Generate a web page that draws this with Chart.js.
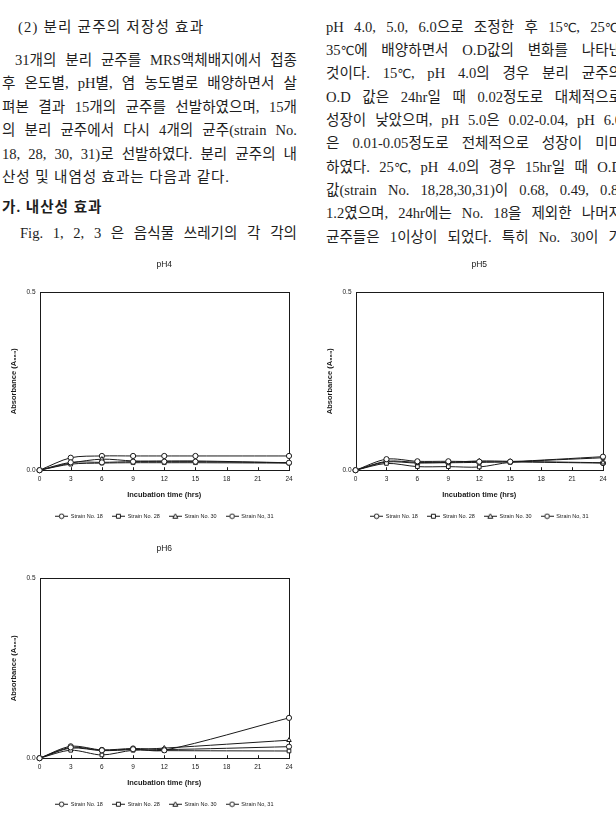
<!DOCTYPE html>
<html lang="ko">
<head>
<meta charset="utf-8">
<script src="https://cdn.jsdelivr.net/npm/chart.js@4.4.1/dist/chart.umd.min.js"></script>
<style>
  body { margin: 0; width: 616px; height: 814px; overflow: hidden; background: #fff; position: relative;
         font-family: "Liberation Serif", "Noto Sans CJK KR", serif; color: #1e1e1e; }
  .ln { position: absolute; font-size: 14.6px; line-height: 20px; white-space: nowrap; }
  .j { white-space: normal; text-align: justify; text-align-last: justify; text-justify: inter-word; }
  .l { left: 2px; width: 295px; }
  .r { left: 326px; width: 296px; }
  .t { display: inline-block; }
  .c { font-family: "DejaVu Sans", sans-serif; font-size: 12.5px; letter-spacing: -0.5px; }
  .box { position: absolute; }
</style>
</head>
<body>

<div class="ln" style="left:18px;top:17px;letter-spacing:1.2px">(2) 분리 균주의 저장성 효과</div>
<div class="ln j l" style="top:50px;left:15px;width:282px">31개의 분리 균주를 MRS액체배지에서 접종</div>
<div class="ln j l" style="top:73px">후 온도별, pH별, 염 농도별로 배양하면서 살</div>
<div class="ln j l" style="top:97px">펴본 결과 15개의 균주를 선발하였으며, 15개</div>
<div class="ln j l" style="top:120px">의 분리 균주에서 다시 4개의 균주(strain No.</div>
<div class="ln j l" style="top:144px">18, 28, 30, 31)로 선발하였다. 분리 균주의 내</div>
<div class="ln" style="left:2px;top:167px;letter-spacing:0.9px">산성 및 내염성 효과는 다음과 같다.</div>
<div class="ln" style="left:2px;top:197px;font-weight:bold;letter-spacing:1px">가. 내산성 효과</div>
<div class="ln j l" style="top:223px;left:20px;width:277px">Fig. 1, 2, 3 은 음식물 쓰레기의 각 각의</div>

<div class="ln j r" style="top:17px">pH 4.0, 5.0, 6.0으로 조정한 후 <span class="t">15<span class="c">℃</span>,</span> <span class="t">25<span class="c">℃</span>,</span></div>
<div class="ln j r" style="top:40px"><span class="t">35<span class="c">℃</span>에</span> 배양하면서 O.D값의 변화를 나타낸</div>
<div class="ln j r" style="top:63px">것이다. <span class="t">15<span class="c">℃</span>,</span> pH 4.0의 경우 분리 균주의</div>
<div class="ln j r" style="top:87px">O.D 값은 24hr일 때 0.02정도로 대체적으로</div>
<div class="ln j r" style="top:110px">성장이 낮았으며, pH 5.0은 0.02-0.04, pH 6.0</div>
<div class="ln j r" style="top:133px">은 0.01-0.05정도로 전체적으로 성장이 미미</div>
<div class="ln j r" style="top:157px">하였다. <span class="t">25<span class="c">℃</span>,</span> pH 4.0의 경우 15hr일 때 O.D</div>
<div class="ln j r" style="top:180px">값(strain No. 18,28,30,31)이 0.68, 0.49, 0.8,</div>
<div class="ln j r" style="top:203px">1.2였으며, 24hr에는 No. 18을 제외한 나머지</div>
<div class="ln j r" style="top:227px">균주들은 1이상이 되었다. 특히 No. 30이 가</div>

<div class="box" style="left:0;top:245px"><canvas id="ph4" width="308" height="290"></canvas></div>
<div class="box" style="left:308px;top:245px"><canvas id="ph5" width="308" height="290"></canvas></div>
<div class="box" style="left:0;top:535px"><canvas id="ph6" width="308" height="282"></canvas></div>

<script>
// time points (hrs)
const hours = [0, 3, 6, 9, 12, 15, 24];
const hoursPH6 = [0, 3, 6, 9, 12, 24];
const xTicks = [0, 3, 6, 9, 12, 15, 18, 21, 24];
const yTicks = [0, 0.5];
const strainNames = ["Strain No. 18", "Strain No. 28", "Strain No. 30", "Strain No, 31"];
const markers = ["circle", "rect", "triangle", "circle"];

// absorbance A660
const ph4_18 = [0, 0.022, 0.022, 0.024, 0.024, 0.024, 0.021];
const ph4_28 = [0, 0.017, 0.020, 0.021, 0.021, 0.021, 0.020];
const ph4_30 = [0, 0.020, 0.031, 0.026, 0.026, 0.026, 0.021];
const ph4_31 = [0, 0.035, 0.040, 0.040, 0.040, 0.040, 0.040];

const ph5_18 = [0, 0.031, 0.025, 0.025, 0.024, 0.024, 0.038];
const ph5_28 = [0, 0.019, 0.010, 0.010, 0.009, 0.022, 0.035];
const ph5_30 = [0, 0.023, 0.020, 0.022, 0.026, 0.025, 0.021];
const ph5_31 = [0, 0.025, 0.022, 0.021, 0.022, 0.023, 0.020];

const ph6_18 = [0, 0.030, 0.022, 0.025, 0.022, 0.112];
const ph6_28 = [0, 0.022, 0.009, 0.022, 0.021, 0.020];
const ph6_30 = [0, 0.028, 0.021, 0.024, 0.028, 0.050];
const ph6_31 = [0, 0.033, 0.023, 0.027, 0.024, 0.032];

const ink = "#1a1a1a";
const sans = "'Liberation Sans', Arial, 'DejaVu Sans', sans-serif";

// little "-o-" pictures for the legend
function legendIcon(style) {
  let c = document.createElement("canvas");
  c.width = 13; c.height = 7;
  let g = c.getContext("2d");
  g.strokeStyle = ink; g.lineWidth = 1; g.fillStyle = "#fff";
  g.beginPath(); g.moveTo(0, 3.5); g.lineTo(13, 3.5); g.stroke();
  g.beginPath();
  if (style === "rect") g.rect(4.5, 1.5, 4, 4);
  else if (style === "triangle") { g.moveTo(6.5, 1); g.lineTo(9, 5.5); g.lineTo(4, 5.5); g.closePath(); }
  else g.arc(6.5, 3.5, 2.3, 0, Math.PI * 2);
  g.fill(); g.stroke();
  return c;
}
const legendIcons = markers.map(legendIcon);

const frame = {
  id: "frame",
  beforeDatasetsDraw(chart) {
    let { ctx, chartArea: a, scales } = chart;
    ctx.save();
    ctx.strokeStyle = ink;
    ctx.lineWidth = 1;
    ctx.strokeRect(Math.round(a.left) + 0.5, Math.round(a.top) + 0.5, Math.round(a.right - a.left), Math.round(a.bottom - a.top));
    ctx.beginPath();
    xTicks.forEach(v => {
      let px = Math.round(scales.x.getPixelForValue(v)) + 0.5;
      ctx.moveTo(px, a.bottom);
      ctx.lineTo(px, a.bottom - 3);
    });
    ctx.stroke();
    ctx.restore();
  },
};

function makeChart(id, title, xs, rows, pad, titlePad) {
  return new Chart(document.getElementById(id), {
    type: "line",
    data: {
      datasets: rows.map((ys, i) => ({
        label: strainNames[i],
        data: ys.map((y, k) => ({ x: xs[k], y: y })),
        borderColor: ink,
        borderWidth: 1,
        tension: 0.3,
        clip: false,
        pointStyle: markers[i],
        pointRadius: 2.6,
        pointBorderWidth: 1,
        pointBackgroundColor: "#fff",
        pointBorderColor: ink,
      })),
    },
    options: {
      responsive: false,
      animation: false,
      layout: { padding: pad },
      scales: {
        x: {
          type: "linear", min: 0, max: 24,
          afterBuildTicks: s => { s.ticks = xTicks.map(v => ({ value: v })); },
          grid: { display: false, drawTicks: false },
          border: { display: false },
          ticks: { color: ink, padding: 5, maxRotation: 0, font: { family: sans, size: 6.5 } },
          title: { display: true, text: "Incubation time (hrs)", color: ink, padding: { top: 2, bottom: 5.5 },
                   font: { family: sans, size: 7.5, weight: "bold" } },
        },
        y: {
          min: 0, max: 0.5,
          afterBuildTicks: s => { s.ticks = yTicks.map(v => ({ value: v })); },
          grid: { display: false, drawTicks: false },
          border: { display: false },
          ticks: { color: ink, padding: 4, callback: v => v.toFixed(1), font: { family: sans, size: 6.5 } },
          title: { display: true, text: "Absorbance (A\u2086\u2086\u2080)", color: ink, padding: { top: 0, bottom: 4 },
                   font: { family: sans, size: 7.5, weight: "bold" } },
        },
      },
      plugins: {
        title: { display: true, text: title, color: ink, fullSize: false, padding: titlePad,
                 font: { family: sans, size: 8.5, weight: "normal" } },
        legend: {
          position: "bottom", fullSize: false,
          labels: {
            usePointStyle: true, pointStyleWidth: 13, padding: 9, color: ink,
            font: { family: sans, size: 5.5 },
            generateLabels: chart => Chart.defaults.plugins.legend.labels.generateLabels(chart)
              .map((l, i) => ({ ...l, pointStyle: legendIcons[i] })),
          },
        },
        tooltip: { enabled: false },
      },
    },
    plugins: [frame],
  });
}

makeChart("ph4", "pH4", hours, [ph4_18, ph4_28, ph4_30, ph4_31],
  { left: 9.5, right: 19, top: 3, bottom: 6 }, { top: 12, bottom: 22 });
makeChart("ph5", "pH5", hours, [ph5_18, ph5_28, ph5_30, ph5_31],
  { left: 17.5, right: 13, top: 3, bottom: 6 }, { top: 12, bottom: 22 });
makeChart("ph6", "pH6", hoursPH6, [ph6_18, ph6_28, ph6_30, ph6_31],
  { left: 9.5, right: 19, top: 0, bottom: 0 }, { top: 9, bottom: 24 });
</script>
</body>
</html>
